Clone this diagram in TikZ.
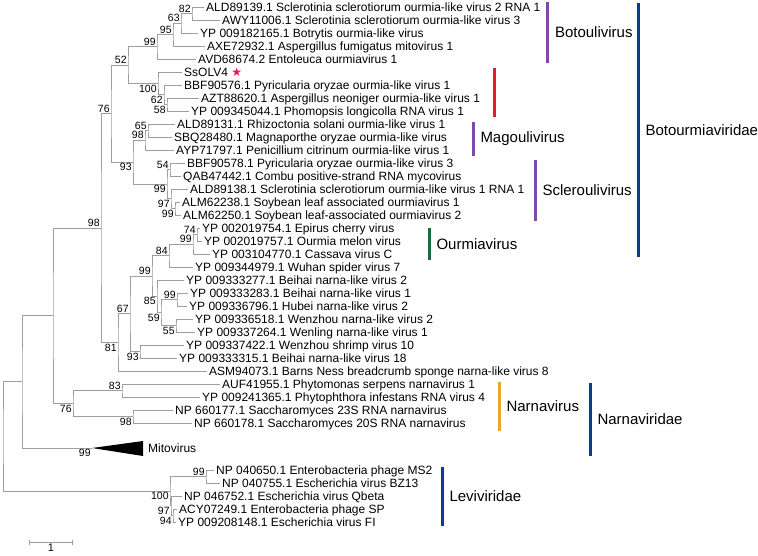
\documentclass[tikz,border=0pt]{standalone}
\usepackage{fontspec}
\setmainfont{Liberation Sans}
\newfontfamily\starfont{DejaVu Sans}
\usetikzlibrary{arrows.meta}
\definecolor{treegray}{RGB}{158,158,158}
\definecolor{genuspurple}{RGB}{128,72,168}
\definecolor{genusred}{RGB}{226,28,52}
\definecolor{genusgreen}{RGB}{28,108,62}
\definecolor{genusorange}{RGB}{236,166,40}
\definecolor{familyblue}{RGB}{16,56,150}
\definecolor{starred}{RGB}{232,24,84}

\begin{document}
\begin{tikzpicture}[
  x=1pt, y=-1pt,
  branch/.style={draw=treegray, line width=0.8pt},
  leaf/.style={anchor=west, inner sep=2pt, text height=8.6pt, text depth=0pt, font=\fontsize{12}{12}\selectfont},
  bootup/.style={anchor=south east, inner sep=1.2pt, font=\fontsize{10.5}{10.5}\selectfont},
  bootdown/.style={anchor=north east, inner sep=1.2pt, font=\fontsize{10.5}{10.5}\selectfont},
  cladebar/.style={line width=3pt},
  cladename/.style={anchor=west, inner sep=0pt, xshift=6pt, text=black, font=\fontsize{15}{15}\selectfont}
]
\useasboundingbox (0,0) rectangle (758,555);

\node[leaf] (l1) at (204,7) {ALD89139.1 Sclerotinia sclerotiorum ourmia-like virus 2 RNA 1};
\node[leaf] (l2) at (220,20) {AWY11006.1 Sclerotinia sclerotiorum ourmia-like virus 3};
\node[leaf] (l3) at (198,33) {YP 009182165.1 Botrytis ourmia-like virus};
\node[leaf] (l4) at (205,46) {AXE72932.1 Aspergillus fumigatus mitovirus 1};
\node[leaf] (l5) at (196,59) {AVD68674.2 Entoleuca ourmiavirus 1};
\node[leaf] (l6) at (182,72) {SsOLV4 {\color{starred}\starfont ★}};
\node[leaf] (l7) at (182,85) {BBF90576.1 Pyricularia oryzae ourmia-like virus 1};
\node[leaf] (l8) at (199,98) {AZT88620.1 Aspergillus neoniger ourmia-like virus 1};
\node[leaf] (l9) at (189,111) {YP 009345044.1 Phomopsis longicolla RNA virus 1};
\node[leaf] (l10) at (175,124) {ALD89131.1 Rhizoctonia solani ourmia-like virus 1};
\node[leaf] (l11) at (172,137) {SBQ28480.1 Magnaporthe oryzae ourmia-like virus};
\node[leaf] (l12) at (174,150) {AYP71797.1 Penicillium citrinum ourmia-like virus 1};
\node[leaf] (l13) at (185,163) {BBF90578.1 Pyricularia oryzae ourmia-like virus 3};
\node[leaf] (l14) at (181,176) {QAB47442.1 Combu positive-strand RNA mycovirus};
\node[leaf] (l15) at (188,189) {ALD89138.1 Sclerotinia sclerotiorum ourmia-like virus 1 RNA 1};
\node[leaf] (l16) at (180,202) {ALM62238.1 Soybean leaf associated ourmiavirus 1};
\node[leaf] (l17) at (181,215) {ALM62250.1 Soybean leaf-associated ourmiavirus 2};
\node[leaf] (l18) at (200,228) {YP 002019754.1 Epirus cherry virus};
\node[leaf] (l19) at (202,241) {YP 002019757.1 Ourmia melon virus};
\node[leaf] (l20) at (210,254) {YP 003104770.1 Cassava virus C};
\node[leaf] (l21) at (193,267) {YP 009344979.1 Wuhan spider virus 7};
\node[leaf] (l22) at (184,280) {YP 009333277.1 Beihai narna-like virus 2};
\node[leaf] (l23) at (188,293) {YP 009333283.1 Beihai narna-like virus 1};
\node[leaf] (l24) at (187,306) {YP 009336796.1 Hubei narna-like virus 2};
\node[leaf] (l25) at (193,319) {YP 009336518.1 Wenzhou narna-like virus 2};
\node[leaf] (l26) at (195,332) {YP 009337264.1 Wenling narna-like virus 1};
\node[leaf] (l27) at (184,345) {YP 009337422.1 Wenzhou shrimp virus 10};
\node[leaf] (l28) at (177,358) {YP 009333315.1 Beihai narna-like virus 18};
\node[leaf] (l29) at (207,371) {ASM94073.1 Barns Ness breadcrumb sponge narna-like virus 8};
\node[leaf] (l30) at (220,384) {AUF41955.1 Phytomonas serpens narnavirus 1};
\node[leaf] (l31) at (200,397) {YP 009241365.1 Phytophthora infestans RNA virus 4};
\node[leaf] (l32) at (173,410) {NP 660177.1 Saccharomyces 23S RNA narnavirus};
\node[leaf] (l33) at (192,423) {NP 660178.1 Saccharomyces 20S RNA narnavirus};
\node[leaf] (l34) at (214,470) {NP 040650.1 Enterobacteria phage MS2};
\node[leaf] (l35) at (220,483) {NP 040755.1 Escherichia virus BZ13};
\node[leaf] (l36) at (182,496) {NP 046752.1 Escherichia virus Qbeta};
\node[leaf] (l37) at (177,509) {ACY07249.1 Enterobacteria phage SP};
\node[leaf] (l38) at (176,522) {YP 009208148.1 Escherichia virus FI};

\coordinate (mito) at (92,448);
\fill (mito) -- (143,441) -- (143,456) -- cycle;
\node[leaf, inner sep=0pt] (tMito) at (148,448) {Mitovirus};

\coordinate (n82) at (192,13.5);
\coordinate (n63) at (181,23.25);
\coordinate (n95) at (173,34.63);
\coordinate (n99a) at (157,46.81);
\coordinate (n58) at (167,104.5);
\coordinate (n62) at (164,94.75);
\coordinate (n100) at (158,83.38);
\coordinate (n52) at (128,65.09);
\coordinate (n65) at (148,130.5);
\coordinate (n98m) at (145,140.25);
\coordinate (n54) at (170,169.5);
\coordinate (n99b) at (175,208.5);
\coordinate (n97) at (171,198.75);
\coordinate (n99s) at (167,184.13);
\coordinate (n93) at (133,162.19);
\coordinate (n76) at (111,113.64);
\coordinate (n74) at (197,234.5);
\coordinate (n99o) at (193,244.25);
\coordinate (n84) at (169,255.63);
\coordinate (n99c) at (177,299.5);
\coordinate (n55) at (176,325.5);
\coordinate (n59) at (161,312.5);
\coordinate (n85) at (157,296.25);
\coordinate (n99g) at (152,275.94);
\coordinate (n93n) at (140,351.5);
\coordinate (n67) at (130,313.72);
\coordinate (n81) at (118,342.36);
\coordinate (n98) at (101,228);
\coordinate (n83) at (122,390.5);
\coordinate (n98n) at (133,416.5);
\coordinate (n76n) at (73,403.5);
\coordinate (nB) at (53,315.75);
\coordinate (nA) at (22,381.88);
\coordinate (n99l) at (206,476.5);
\coordinate (n94) at (173,515.5);
\coordinate (n97l) at (171,505.75);
\coordinate (n100l) at (170,491.13);
\coordinate (root) at (3,436.5);

\draw[branch] (l1.west) -| (n82) |- (l2.west);
\draw[branch] (n82) -| (n63) |- (l3.west);
\draw[branch] (n63) -| (n95) |- (l4.west);
\draw[branch] (n95) -| (n99a) |- (l5.west);
\draw[branch] (l8.west) -| (n58) |- (l9.west);
\draw[branch] (l7.west) -| (n62) |- (n58);
\draw[branch] (l6.west) -| (n100) |- (n62);
\draw[branch] (n99a) -| (n52) |- (n100);
\draw[branch] (l10.west) -| (n65) |- (l11.west);
\draw[branch] (n65) -| (n98m) |- (l12.west);
\draw[branch] (l13.west) -| (n54) |- (l14.west);
\draw[branch] (l16.west) -| (n99b) |- (l17.west);
\draw[branch] (l15.west) -| (n97) |- (n99b);
\draw[branch] (n54) -| (n99s) |- (n97);
\draw[branch] (n98m) -| (n93) |- (n99s);
\draw[branch] (n52) -| (n76) |- (n93);
\draw[branch] (l18.west) -| (n74) |- (l19.west);
\draw[branch] (n74) -| (n99o) |- (l20.west);
\draw[branch] (n99o) -| (n84) |- (l21.west);
\draw[branch] (l23.west) -| (n99c) |- (l24.west);
\draw[branch] (l25.west) -| (n55) |- (l26.west);
\draw[branch] (n99c) -| (n59) |- (n55);
\draw[branch] (l22.west) -| (n85) |- (n59);
\draw[branch] (n84) -| (n99g) |- (n85);
\draw[branch] (l27.west) -| (n93n) |- (l28.west);
\draw[branch] (n99g) -| (n67) |- (n93n);
\draw[branch] (n67) -| (n81) |- (l29.west);
\draw[branch] (n76) -| (n98) |- (n81);
\draw[branch] (l30.west) -| (n83) |- (l31.west);
\draw[branch] (l32.west) -| (n98n) |- (l33.west);
\draw[branch] (n83) -| (n76n) |- (n98n);
\draw[branch] (n98) -| (nB) |- (n76n);
\draw[branch] (nB) -| (nA) |- (mito);
\draw[branch] (l34.west) -| (n99l) |- (l35.west);
\draw[branch] (l37.west) -| (n94) |- (l38.west);
\draw[branch] (l36.west) -| (n97l) |- (n94);
\draw[branch] (n99l) -| (n100l) |- (n97l);
\draw[branch] (nA) -| (root) |- (n100l);

\node[bootup] (b82) at (n82) {82};
\node[bootup] (b63) at (n63) {63};
\node[bootup] (b95) at (n95) {95};
\node[bootup] (b99a) at (n99a) {99};
\node[bootup] (b52) at (n52) {52};
\node[bootdown] (b100) at (n100) {100};
\node[bootdown] (b62) at (n62) {62};
\node[bootdown] (b58) at (n58) {58};
\node[bootup] (b76) at (n76) {76};
\node[bootdown] (b93) at (n93) {93};
\node[bootup] (b98m) at (n98m) {98};
\node[bootup] (b65) at (n65) {65};
\node[bootdown] (b99s) at (n99s) {99};
\node[bootup] (b54) at (n54) {54};
\node[bootdown] (b97) at (n97) {97};
\node[bootdown] (b99b) at (n99b) {99};
\node[bootup] (b98) at (n98) {98};
\node[bootdown] (b81) at (n81) {81};
\node[bootup] (b67) at (n67) {67};
\node[bootup] (b99g) at (n99g) {99};
\node[bootup] (b84) at (n84) {84};
\node[bootup] (b99o) at (n99o) {99};
\node[bootup] (b74) at (n74) {74};
\node[bootdown] (b85) at (n85) {85};
\node[bootup] (b99c) at (n99c) {99};
\node[bootdown] (b59) at (n59) {59};
\node[bootdown] (b55) at (n55) {55};
\node[bootdown] (b93n) at (n93n) {93};
\node[bootup] (b83) at (n83) {83};
\node[bootdown] (b98n) at (n98n) {98};
\node[bootdown] (b76n) at (n76n) {76};
\node[bootdown] (bMito) at (mito) {99};
\node[bootup] (b99l) at (n99l) {99};
\node[bootdown] (b100l) at (n100l) {100};
\node[bootdown] (b97l) at (n97l) {97};
\node[bootdown] (b94) at (n94) {94};

\draw[cladebar, genuspurple] (547.5,2) -- (547.5,63) node[midway, cladename] (tBoto) {Botoulivirus};
\draw[cladebar, genusred] (494,68) -- (494,117);
\draw[cladebar, genuspurple] (473,122) -- (473,156) node[midway, cladename] (tMago) {Magoulivirus};
\draw[cladebar, genuspurple] (535,160) -- (535,221) node[midway, cladename] (tScle) {Scleroulivirus};
\draw[cladebar, genusgreen] (429,228) -- (429,260) node[midway, cladename] (tOurm) {Ourmiavirus};
\draw[cladebar, familyblue] (638,3) -- (638,257) node[midway, cladename] (tBotF) {Botourmiaviridae};
\draw[cladebar, genusorange] (499,382) -- (499,431) node[midway, cladename] (tNarn) {Narnavirus};
\draw[cladebar, familyblue] (590,383) -- (590,456) node[midway, cladename] (tNarF) {Narnaviridae};
\draw[cladebar, familyblue] (442,467) -- (442,526) node[midway, cladename] (tLevF) {Leviviridae};

\coordinate (sbL) at (29,542);
\coordinate (sbR) at (73,542);
\draw[branch, {Bar[width=5pt]}-{Bar[width=5pt]}] (sbL) -- (sbR) node[midway, below=1pt, inner sep=0.5pt, font=\fontsize{11}{11}\selectfont] (sbT) {1};
\end{tikzpicture}
\end{document}
